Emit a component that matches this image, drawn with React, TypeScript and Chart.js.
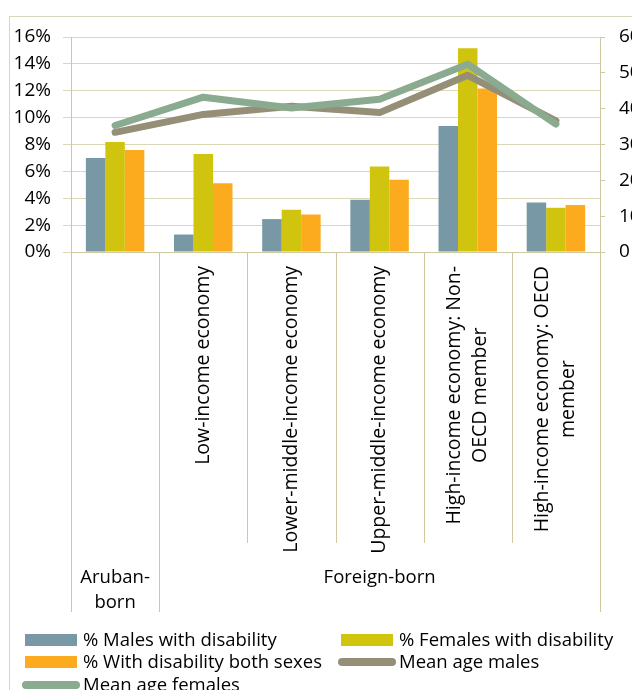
import { useEffect, useRef } from "react";
import { Chart, registerables, Plugin } from "chart.js";

Chart.register(...registerables);

// categories along the x axis (the first one has no rotated label of its own)
const categories = [
  "Aruban-born",
  "Low-income economy",
  "Lower-middle-income economy",
  "Upper-middle-income economy",
  "High-income economy: Non-OECD member",
  "High-income economy: OECD member",
];
const categoryLines = [
  [],
  ["Low-income economy"],
  ["Lower-middle-income economy"],
  ["Upper-middle-income economy"],
  ["High-income economy: Non-", "OECD member"],
  ["High-income economy: OECD", "member"],
];
const groupLines = [["Aruban-", "born"], ["Foreign-born"]];
const groupFirst = [0, 1];
const groupLast = [0, 5];

// series
const malesPct = [7.0, 1.3, 2.45, 3.88, 9.37, 3.68];
const femalesPct = [8.18, 7.29, 3.14, 6.36, 15.16, 3.29];
const bothPct = [7.59, 5.12, 2.79, 5.37, 12.17, 3.49];
const meanAgeMales = [33.4, 38.4, 40.7, 38.9, 49.3, 36.6];
const meanAgeFemales = [35.3, 43.2, 40.2, 42.6, 52.4, 35.7];

const FONT = "'Open Sans'";
const gridColor = "#DAD8B8";
const axisColor = "#CCC9A0";
const frameColor = "#D8D7BE";

const decorations: Plugin = {
  id: "decorations",
  beforeDraw(chart) {
    const { ctx, width, height } = chart;
    ctx.save();
    ctx.fillStyle = "#fff";
    ctx.fillRect(0, 0, width, height);
    ctx.strokeStyle = frameColor;
    ctx.lineWidth = 1;
    ctx.strokeRect(9.5, 16.5, width + 20, height + 20);
    ctx.restore();
  },
  afterDraw(chart) {
    const { ctx, chartArea } = chart;
    const x = chart.scales.x;
    const px = (i: number) => x.getPixelForValue(i);
    const edge = (i: number) =>
      i <= 0 ? chartArea.left : i >= categories.length ? chartArea.right : (px(i - 1) + px(i)) / 2;
    const bottom = chartArea.bottom;

    ctx.save();
    ctx.strokeStyle = axisColor;
    ctx.lineWidth = 1;
    // separators below the axis
    for (let i = 0; i <= categories.length; i++) {
      const isGroupEdge = groupFirst.includes(i) || i === categories.length;
      const xx = Math.round(edge(i)) + 0.5;
      ctx.beginPath();
      ctx.moveTo(xx, bottom);
      ctx.lineTo(xx, isGroupEdge ? 612 : 543);
      ctx.stroke();
    }

    // rotated category labels
    ctx.fillStyle = "#000";
    ctx.font = `19.5px ${FONT}`;
    categoryLines.forEach((lines, i) => {
      if (!lines.length) return;
      const maxLen = Math.max(...lines.map((l) => ctx.measureText(l).width));
      ctx.save();
      ctx.translate(px(i), bottom + 14);
      ctx.rotate(-Math.PI / 2);
      ctx.textAlign = "center";
      ctx.textBaseline = "middle";
      lines.forEach((l, k) => {
        ctx.fillText(l, -maxLen / 2, (k - (lines.length - 1) / 2) * 26);
      });
      ctx.restore();
    });

    // group labels
    ctx.font = `18.5px ${FONT}`;
    ctx.textAlign = "center";
    ctx.textBaseline = "alphabetic";
    groupLines.forEach((lines, g) => {
      const cx = (edge(groupFirst[g]) + edge(groupLast[g] + 1)) / 2;
      lines.forEach((l, k) => ctx.fillText(l, cx, 583 + k * 25));
    });

    // legend
    const colX = [25, 341];
    const rowY = [640, 662, 685];
    ctx.font = `18.5px ${FONT}`;
    ctx.textAlign = "left";
    chart.data.datasets.forEach((ds: any, i) => {
      const cx = colX[i % 2];
      const cy = rowY[Math.floor(i / 2)];
      if (ds.type === "line") {
        ctx.strokeStyle = ds.borderColor;
        ctx.lineWidth = 8;
        ctx.lineCap = "round";
        ctx.beginPath();
        ctx.moveTo(cx + 1, cy);
        ctx.lineTo(cx + 51, cy);
        ctx.stroke();
      } else {
        ctx.fillStyle = ds.backgroundColor;
        ctx.fillRect(cx, cy - 6, 52, 12);
      }
      ctx.fillStyle = "#000";
      ctx.fillText(ds.label, cx + 58, cy + 6);
    });
    ctx.restore();
  },
};

export default function App() {
  const canvasRef = useRef<HTMLCanvasElement>(null);

  useEffect(() => {
    if (!canvasRef.current) return;
    const tickFont = { family: FONT, size: 19 };

    const chart = new Chart(canvasRef.current, {
      type: "bar",
      data: {
        labels: categories,
        datasets: [
          { label: "% Males with disability", data: malesPct, backgroundColor: "#7798A4", yAxisID: "y", order: 2 },
          { label: "% Females with disability", data: femalesPct, backgroundColor: "#D1C40E", yAxisID: "y", order: 3 },
          { label: "% With disability both sexes", data: bothPct, backgroundColor: "#FCAA1E", yAxisID: "y", order: 4 },
          {
            type: "line",
            label: "Mean age males",
            data: meanAgeMales,
            borderColor: "#958F78",
            backgroundColor: "#958F78",
            borderWidth: 7,
            borderCapStyle: "round",
            borderJoinStyle: "round",
            pointRadius: 0,
            yAxisID: "y1",
            order: 1,
          },
          {
            type: "line",
            label: "Mean age females",
            data: meanAgeFemales,
            borderColor: "#8BAB90",
            backgroundColor: "#8BAB90",
            borderWidth: 7,
            borderCapStyle: "round",
            borderJoinStyle: "round",
            pointRadius: 0,
            yAxisID: "y1",
            order: 0,
          },
        ] as any,
      },
      options: {
        animation: false,
        responsive: true,
        maintainAspectRatio: false,
        layout: { padding: { top: 37, left: 0, right: 0, bottom: 0 } },
        datasets: { bar: { categoryPercentage: 0.663, barPercentage: 1 } },
        plugins: { legend: { display: false }, tooltip: { enabled: false } },
        scales: {
          x: {
            grid: { display: false },
            ticks: { display: false },
            border: { color: axisColor },
            afterFit: (s) => {
              s.height = 438;
            },
          },
          y: {
            min: 0,
            max: 16,
            ticks: { stepSize: 2, padding: 12, color: "#000", font: tickFont, callback: (v) => `${v}%` },
            grid: { color: gridColor, tickLength: 8, tickColor: gridColor },
            border: { color: axisColor },
            afterFit: (s) => {
              s.width = 71;
            },
          },
          y1: {
            position: "right",
            min: 0,
            max: 60,
            ticks: { stepSize: 10, padding: 14, color: "#000", font: tickFont },
            grid: { drawOnChartArea: false, tickLength: 5, tickColor: axisColor },
            border: { color: axisColor },
            afterFit: (s) => {
              s.width = 32;
            },
          },
        },
      },
      plugins: [decorations],
    });

    return () => chart.destroy();
  }, []);

  return (
    <div style={{ position: "fixed", left: 0, top: 0, width: 632, height: 690, background: "#fff" }}>
      <canvas ref={canvasRef} />
    </div>
  );
}
